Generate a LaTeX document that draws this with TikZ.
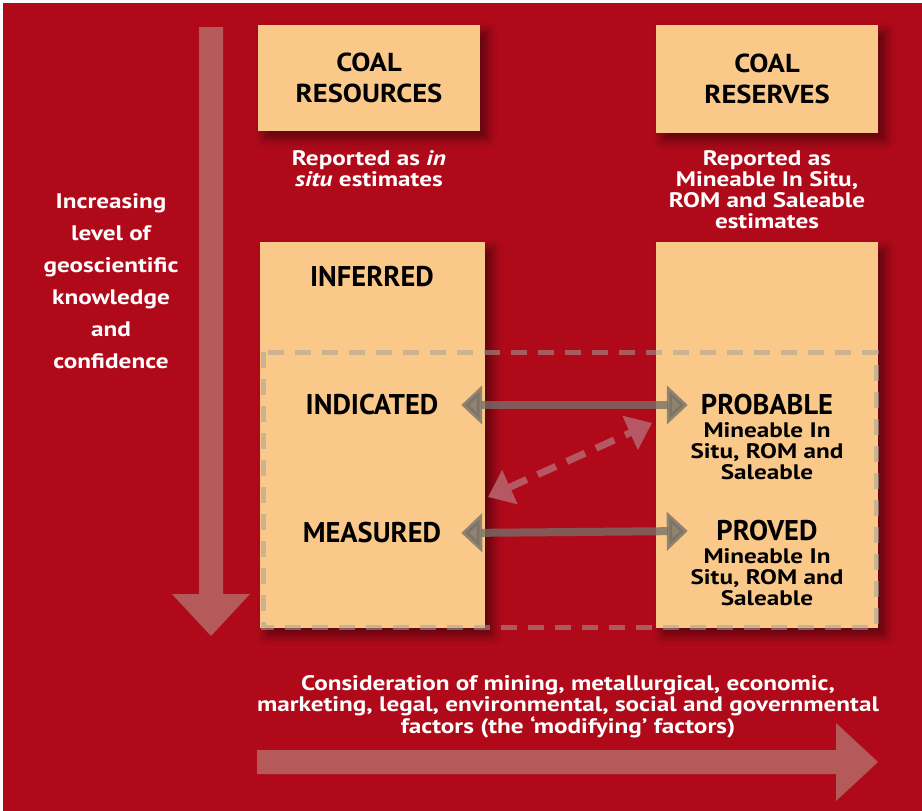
\documentclass[tikz,border=0pt]{standalone}
\usepackage{fontspec}
\setmainfont{PT Sans}
\newfontfamily\headfont{PT Sans}[FakeStretch=1.1]
\newfontfamily\notefont{PT Sans}[FakeStretch=1.2]
\usetikzlibrary{arrows.meta,shadows.blur,positioning}

\definecolor{bgred}{RGB}{176,10,26}
\definecolor{boxorange}{RGB}{250,201,138}
\definecolor{fadearrow}{RGB}{181,90,90}
\definecolor{linkgrey}{RGB}{118,112,104}
\definecolor{dashpink}{RGB}{182,88,100}
\definecolor{framegrey}{RGB}{165,161,151}

\tikzset{
  coalbox/.style={fill=boxorange, inner sep=0pt,
    blur shadow={shadow xshift=7pt, shadow yshift=-7pt, shadow blur radius=10pt, shadow opacity=50}},
  headtext/.style={align=center, font=\headfont\fontsize{26}{31}\selectfont\bfseries},
  classtext/.style={inner sep=0pt, font=\fontsize{28.5}{31}\selectfont\bfseries},
  subtext/.style={align=center, inner sep=0pt, font=\notefont\fontsize{21}{21}\selectfont\bfseries},
  whitetext/.style={align=center, text=white, inner sep=0pt, font=\notefont\fontsize{21}{21}\selectfont\bfseries},
  linkarrow/.style={draw=linkgrey, opacity=0.78, line width=8pt,
    {Triangle[width=38pt,length=21pt]}-{Triangle[width=38pt,length=21pt]}},
  convertarrow/.style={draw=dashpink, line width=7pt, dash pattern=on 20pt off 12pt,
    {Triangle[width=36pt,length=24pt]}-{Triangle[width=36pt,length=24pt]}},
}

\begin{document}
\begin{tikzpicture}[x=1pt,y=-1pt]
        % 背景
        \useasboundingbox (0,0) rectangle (922,811);
        \fill [white] (0,0) rectangle (922,811);
        \fill [bgred] (3,3) rectangle (922,811);

        % 粗箭头
        \fill [fadearrow] (199,27) -- (223,27) -- (223,594) -- (250,594) -- (211,636) -- (172,594) -- (199,594) -- cycle;
        \fill [fadearrow] (257,750) -- (836,750) -- (836,723) -- (878,762) -- (836,801) -- (836,774) -- (257,774) -- cycle;

        % 标题框
        \node [coalbox, minimum width=222pt, minimum height=106pt] (resources) at (369,78) {};
        \node [coalbox, minimum width=222pt, minimum height=108pt] (reserves) at (767,79) {};
        \node [headtext] (resourcestitle) at (resources) {COAL\\RESOURCES};
        \node [headtext] (reservestitle) at (reserves) {COAL\\RESERVES};

        % 说明文字
        \node [whitetext] (resourcesnote) at (369,169) {Reported as \textit{in}\\\textit{situ} estimates};
        \node [whitetext] (reservesnote) at (767,190) {Reported as\\Mineable In Situ,\\ROM and Saleable\\estimates};
        \node [whitetext, font=\notefont\fontsize{21}{32}\selectfont\bfseries] (confidence) at (111,281)
            {Increasing\\level of\\geoscientific\\knowledge\\and\\confidence};
        \node [whitetext] (modifying) at (568,707)
            {Consideration of mining, metallurgical, economic,\\marketing, legal, environmental, social and governmental\\factors (the ‘modifying’ factors)};

        % 分类框
        \node [coalbox, minimum width=225pt, minimum height=386pt] (resourcecol) at (372.5,435) {};
        \node [coalbox, minimum width=222pt, minimum height=386pt] (reservecol) at (767,435) {};

        % 虚线框
        \draw [framegrey, opacity=0.55, line width=5pt, dash pattern=on 16pt off 11pt] (263,352) rectangle (876,627);

        % 类别
        \node [classtext] (inferred) at (372,277) {INFERRED};
        \node [classtext, minimum width=178pt] (indicated) at (372,405) {INDICATED};
        \node [classtext, minimum width=178pt] (measured) at (372,533) {MEASURED};
        \node [classtext, minimum width=158pt] (probable) at (767,405) {PROBABLE};
        \node [classtext, minimum width=158pt] (proved) at (767,531) {PROVED};
        \node [subtext, below=7pt of probable] (probablesub) {Mineable In\\Situ, ROM and\\Saleable};
        \node [subtext, below=7pt of proved] (provedsub) {Mineable In\\Situ, ROM and\\Saleable};

        % 对应关系
        \draw [linkarrow] (indicated.east) -- (probable.west);
        \draw [linkarrow] (measured.east) -- (proved.west);
        \coordinate (convertlow) at (488,497);
        \coordinate (converthigh) at (652,423);
        \draw [convertarrow] (convertlow) -- (converthigh);
\end{tikzpicture}
\end{document}
